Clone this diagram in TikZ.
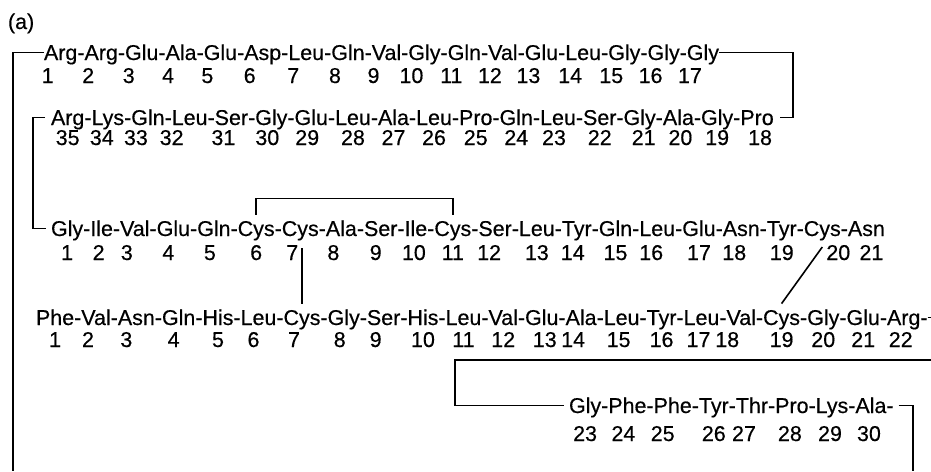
\documentclass[tikz,border=0pt]{standalone}
\usepackage{fontspec}
\setmainfont{Liberation Sans}[FakeBold=0.4]
\usetikzlibrary{calc}

\newcommand\seqfont{\fontsize{21.45}{25}\selectfont}
% one row of residues: name, start, drop of the numbers, shift of the numbers, list
\newcommand\aminorow[5]{%
  \node[res] (#1-0) at #2 {};
  \foreach \aa/\no/\dx [count=\k, remember=\k as \j (initially 0)] in {#5} {
    \ifnum\k>1
      \node[res] (#1-h\k) at (#1-\j.base east) {-};
      \node[res] (#1-\k) at (#1-h\k.base east) {\aa};
    \else
      \node[res] (#1-1) at (#1-0.base east) {\aa};
    \fi
    \node[num] (#1n\k) at ([xshift={((#4)+(\dx))*1pt}, yshift={-(#3)*1pt}]#1-\k.base) {\no};
  }%
}

\begin{document}
\begin{tikzpicture}[x=1pt, y=-1pt,
  res/.style={inner sep=0pt, outer sep=0pt, anchor=base west,
    text height=15.4pt, text depth=0pt, font=\seqfont},
  num/.style={inner sep=0pt, anchor=base, font=\seqfont},
  link/.style={line width=1.6pt}]
  \useasboundingbox (0,0) rectangle (931,471);

  \node[res] (tag) at (8,29) {(a)};

  \aminorow{l1}{(43,60)}{23}{-13}{Arg/1/0, Arg/2/0, Glu/3/0, Ala/4/0, Glu/5/0,
    Asp/6/0, Leu/7/0, Gln/8/0, Val/9/0, Gly/10/0, Gln/11/0, Val/12/0, Glu/13/0,
    Leu/14/0, Gly/15/0, Gly/16/0, Gly/17/0}
  \aminorow{l2}{(50,125)}{20}{0}{Arg/35/0, Lys/34/-6, Gln/33/-12, Leu/32/-18,
    Ser/31/-8, Gly/30/-4, Glu/29/-4, Leu/28/0, Ala/27/0, Leu/26/0, Pro/25/0,
    Gln/24/0, Leu/23/-4, Ser/22/0, Gly/21/4, Ala/20/2, Gly/19/0, Pro/18/3}
  \aminorow{l3}{(50,236)}{24}{0}{Gly/1/0, Ile/2/-3, Val/3/-8, Glu/4/-5, Gln/5/-4,
    Cys/6/0, Cys/7/-8, Ala/8/-8, Ser/9/-5, Ile/10/-2, Cys/11/0, Ser/12/-6,
    Leu/13/0, Tyr/14/-4, Gln/15/0, Leu/16/-6, Glu/17/0, Asn/18/-7, Tyr/19/0,
    Cys/20/16, Asn/21/5}
  \aminorow{l4}{(35,325)}{22}{0}{Phe/1/0, Val/2/-8, Asn/3/-10, Gln/4/-5, His/5/0,
    Leu/6/-5, Cys/7/-8, Gly/8/-4, Ser/9/-8, His/10/0, Leu/11/0, Val/12/0,
    Glu/13/3, Ala/14/-8, Leu/15/-3, Tyr/16/0, Leu/17/-3, Val/18/-14, Cys/19/0,
    Gly/20/0, Glu/21/0, Arg/22/-3}
  \aminorow{l5}{(568,413)}{28}{0}{Gly/23/0, Phe/24/-4, Phe/25/-10, Tyr/26/0,
    Thr/27/-8, Pro/28/-2, Lys/29/-2, Ala/30/-2}
  \node[res] (l4-t) at (l4-22.base east) {-};
  \node[res] (l5-t) at (l5-8.base east) {-};

  \coordinate (endA) at (13,471);
  \coordinate (turnA) at (793,0);
  \coordinate (bendB) at (455,360);
  \coordinate (endB) at (913,471);

  % chain links
  \draw[link] (l1-1.west) -| (endA);
  \draw[link] (l1-17.east) -| (turnA |- l2-18.east) -- ([xshift=6pt]l2-18.east);
  \draw[link] ([xshift=-6pt]l2-1.west) -- ++(-12,0) |- ([xshift=-5pt]l3-1.west);
  \draw[link] (l4-t.east) -- ++(4,0) |- (bendB) |- ([xshift=-5pt]l5-1.west);
  \draw[link] ([xshift=5pt]l5-t.east) -- (endB |- l5-t.east) -- (endB);
  % disulfide bridges
  \draw[link] ([yshift=6pt]l3-6.north) -- ++(0,-16) -| ([yshift=6pt]l3-11.north);
  \draw[link] ($(l4-7.north |- l3-7.south)+(0,12)$) -- ([yshift=6pt]l4-7.north);
  \draw[link] ([yshift=-11pt]l3-20.south) -- ([yshift=6pt]l4-19.north);
\end{tikzpicture}
\end{document}
